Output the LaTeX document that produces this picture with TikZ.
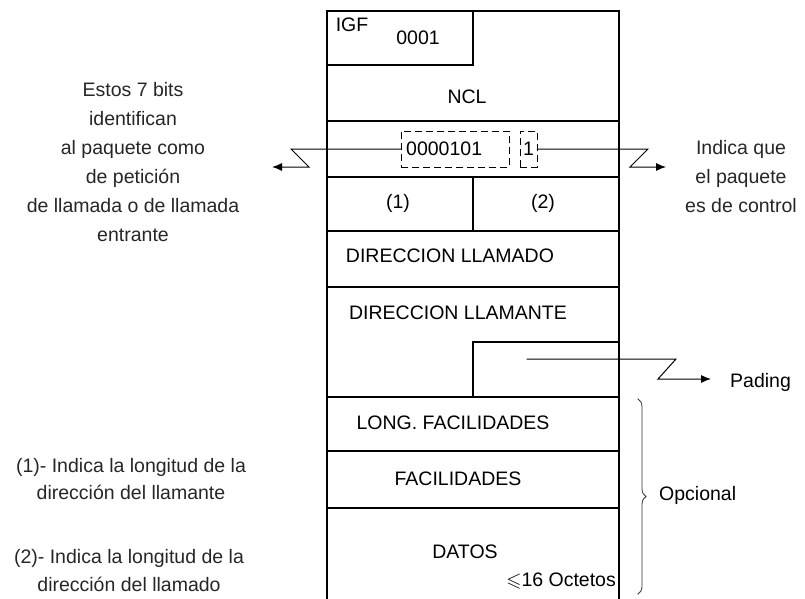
\documentclass[tikz,border=0pt]{standalone}
\usepackage{amssymb}
\usepackage{fontspec}
\setmainfont{Liberation Sans}
\usetikzlibrary{arrows.meta,decorations.pathreplacing}

\begin{document}
\begin{tikzpicture}
% TikZ layout of a call request packet
\def\pxsz{1pt}
\providecommand{\pktLineWidth}{1.2pt}
\providecommand{\pktArrowWidth}{1pt}
\providecommand{\pktFont}{\fontsize{19.5}{29}\selectfont}
\tikzset{
  pktlabel/.style={inner sep=0pt, font=\pktFont},
  notelabel/.style={pktlabel, align=center, color=black!85},
  bitbox/.style={draw, line width=0.9pt, dash pattern=on 7pt off 4pt, minimum height=36pt, inner sep=0pt, font=\pktFont},
  zigarrow/.style={draw, line width=\pktArrowWidth, line join=miter, -{Latex[length=10pt,width=8pt]}},
}
\begin{scope}[x=\pxsz, y=-\pxsz, line cap=rect, line join=miter]
  \useasboundingbox (0,0) rectangle (805,599);
  % Outer frame, open at the bottom
  \draw[line width=\pktLineWidth] (327,599) -- (327,11) -- (619,11) -- (619,599);
  % Rows
  \begin{scope}[line width=\pktLineWidth]
    \draw (327,65) -- (473,65) -- (473,11);
    \draw (327,121) -- (619,121);
    \draw (327,177) -- (619,177);
    \draw (473,177) -- (473,231);
    \draw (327,231) -- (619,231);
    \draw (327,287) -- (619,287);
    \draw (473,397) -- (473,342) -- (619,342);
    \draw (327,397) -- (619,397);
    \draw (327,451) -- (619,451);
    \draw (327,508) -- (619,508);
  \end{scope}
  % Field labels
  \node[pktlabel] (igf) at (352,25) {IGF};
  \node[pktlabel] (gfi) at (418,38) {0001};
  \node[pktlabel] (ncl) at (467,97) {NCL};
  \node[bitbox, minimum width=108pt] (bits) at (455,149) {};
  \node[pktlabel, anchor=west] (code) at (406,149) {0000101};
  \node[bitbox, minimum width=17pt] (ctrl) at (528.5,149) {1};
  \node[pktlabel] (lenA) at (398,203) {(1)};
  \node[pktlabel] (lenB) at (543,203) {(2)};
  \node[pktlabel] (called) at (450,256) {DIRECCION LLAMADO};
  \node[pktlabel] (calling) at (458,313) {DIRECCION LLAMANTE};
  \node[pktlabel] (faclen) at (453,423) {LONG. FACILIDADES};
  \node[pktlabel] (fac) at (458,479) {FACILIDADES};
  \node[pktlabel] (data) at (465,552) {DATOS};
  \node[pktlabel, anchor=east] (octets) at (616,581) {$\leqslant$16 Octetos};
  % Notes
  \node[notelabel] (codenote) at (133,162) {Estos 7 bits\\identifican\\al paquete como\\de petición\\de llamada o de llamada\\entrante};
  \node[notelabel] (ctrlnote) at (741,177) {Indica que\\el paquete\\es de control};
  \node[pktlabel, anchor=west] (padnote) at (730,382) {Pading};
  \node[pktlabel, anchor=west] (optnote) at (659,495) {Opcional};
  \node[notelabel, font=\fontsize{19.5}{27}\selectfont] (noteA) at (131,479) {(1)- Indica la longitud de la\\dirección del llamante};
  \node[notelabel, font=\fontsize{19.5}{28}\selectfont] (noteB) at (129,571) {(2)- Indica la longitud de la\\dirección del llamado};
  % Connectors
  \coordinate (codetip) at (272,167);
  \coordinate (ctrltip) at (666,167);
  \coordinate (padfrom) at (527,359);
  \coordinate (padtip) at (711,379);
  \draw[zigarrow] (bits.west) -- (291,149) -- (309,167) -- (codetip);
  \draw[zigarrow] (ctrl.east) -- (648,149) -- (630,167) -- (ctrltip);
  \draw[zigarrow] (padfrom) -- (676,359) -- (658,379) -- (padtip);
  % Optional part
  \draw[line width=0.8pt, black!80, decorate, decoration={brace, amplitude=8pt}] (638,399) -- (638,594);
\end{scope}
\end{tikzpicture}
\end{document}
